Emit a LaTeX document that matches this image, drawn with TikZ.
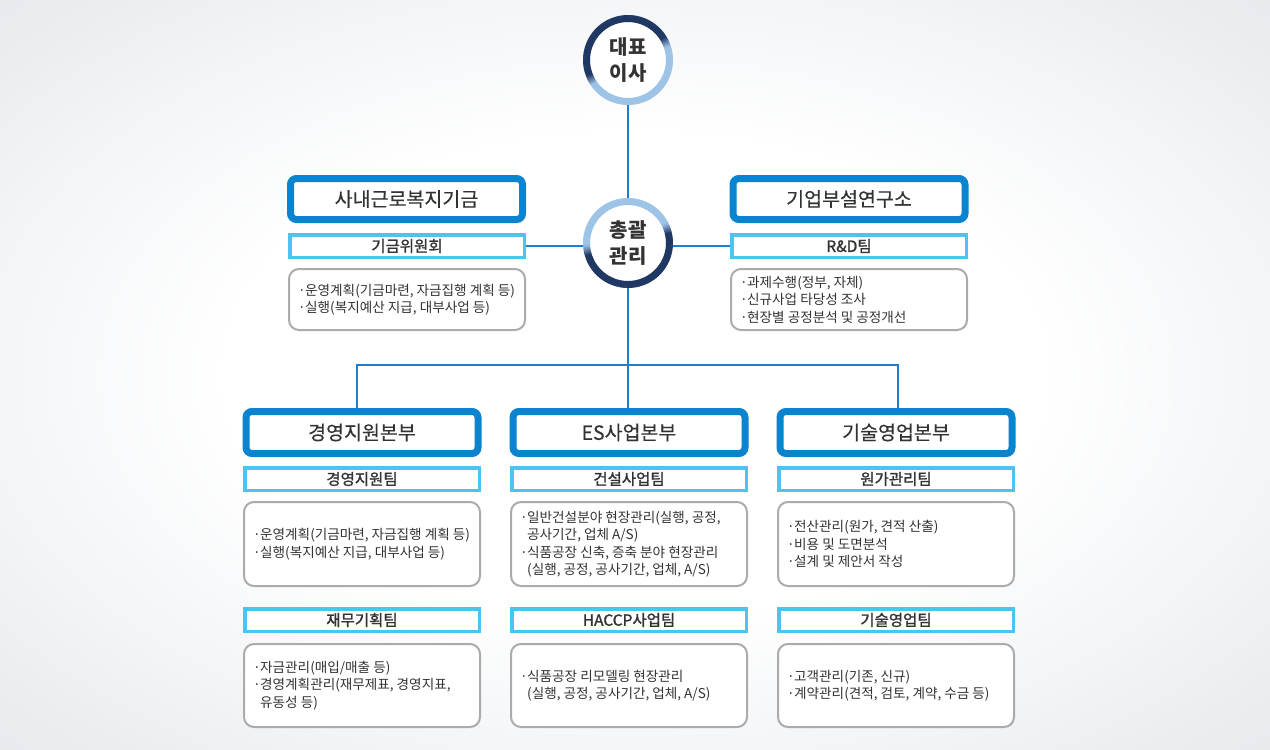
\documentclass[tikz,border=0pt]{standalone}
\usepackage{fontspec}
\setmainfont{Noto Sans CJK KR}
\newfontfamily\titlekr[FakeBold=0.4]{Noto Sans CJK KR}
\newfontfamily\teamkr[FakeBold=1.4]{Noto Sans CJK KR}
\definecolor{bigblue}{HTML}{0A84CF}
\definecolor{teamblue}{HTML}{4CC3F1}
\definecolor{linkblue}{HTML}{1A80CF}
\definecolor{ringdark}{HTML}{1F3763}
\definecolor{ringlight}{HTML}{9DC3E6}
\definecolor{descgray}{HTML}{ABABAB}
\definecolor{txt}{HTML}{333333}
\definecolor{bgedge}{HTML}{D2D9DF}
\pgfdeclareradialshading{bgshade}{\pgfpoint{0bp}{0bp}}{color(0bp)=(white); color(16bp)=(white); color(52bp)=(bgedge); color(100bp)=(bgedge)}
\newcommand\bl{\makebox[7pt][l]{·}}
\newcommand\ind{\hspace*{7pt}}
\newcommand\ringdraw[3]{%
  \foreach \a in {0,3,...,357}{%
    \pgfmathsetmacro\dd{180-abs(mod(\a+1.5-(#2)+720,360)-180)}%
    \pgfmathtruncatemacro\pp{100*max(0,min(1,((#3)+7-\dd)/14))}%
    \draw[line width=7pt, draw=ringdark!\pp!ringlight] (#1) ++(\a:41.5) arc[start angle=\a, end angle=\a+3.6, radius=41.5];
  }}
\begin{document}
\begin{tikzpicture}[x=1pt,y=-1pt,
  bigbox/.style={draw=bigblue, line width=7pt, fill=white, rounded corners=6pt, minimum width=232pt, minimum height=41pt, inner sep=0pt, font=\titlekr\fontsize{19.5}{22}\selectfont, text=txt},
  teambox/.style={draw=teamblue, line width=3.5pt, fill=white, minimum width=234.5pt, minimum height=22.5pt, inner sep=0pt, font=\teamkr\fontsize{15.5}{17}\selectfont, text=txt},
  descbox/.style={draw=descgray, line width=2pt, fill=white, rounded corners=10pt, minimum width=236pt, inner sep=0pt},
  desctext/.style={anchor=west, inner sep=0pt, align=left, font=\fontsize{13.6}{17.5}\selectfont, text=txt},
  ringnode/.style={circle, fill=white, minimum size=90pt, inner sep=0pt, align=center, font=\fontsize{20}{26}\selectfont\bfseries, text=txt},
  link/.style={draw=linkblue, line width=2pt}]
\useasboundingbox (0,0) rectangle (1270,750);
\shade[shading=bgshade] (0,0) rectangle (1270,750);

% circles
\node[ringnode] (c1) at (628,60) {대표\\이사};
\node[ringnode] (c2) at (628,243) {총괄\\관리};
\coordinate (bus) at (628,365);

% top columns
\node[bigbox] (fund) at (406.5,199) {사내근로복지기금};
\node[teambox] (fundteam) at (407,246) {기금위원회};
\node[descbox, minimum height=61pt] (funddesc) at (407,299.5) {};
\node[desctext] at ([xshift=10pt]funddesc.west) {\bl 운영계획(기금마련, 자금집행 계획 등)\\\bl 실행(복지예산 지급, 대부사업 등)};

\node[bigbox] (lab) at (849,199) {기업부설연구소};
\node[teambox] (labteam) at (849,246) {R\&D팀};
\node[descbox, minimum height=61pt] (labdesc) at (849,299.5) {};
\node[desctext] at ([xshift=10pt]labdesc.west) {\bl 과제수행(정부, 자체)\\\bl 신규사업 타당성 조사\\\bl 현장별 공정분석 및 공정개선};

% bottom columns
\node[bigbox, minimum height=42pt] (mgmt) at (362,432.5) {경영지원본부};
\node[teambox] (mgmtA) at (362,479) {경영지원팀};
\node[descbox, minimum height=84pt] (mgmtAd) at (362,544) {};
\node[desctext] at ([xshift=10pt]mgmtAd.west) {\bl 운영계획(기금마련, 자금집행 계획 등)\\\bl 실행(복지예산 지급, 대부사업 등)};
\node[teambox] (mgmtB) at (362,620) {재무기획팀};
\node[descbox, minimum height=83pt] (mgmtBd) at (362,685.5) {};
\node[desctext] at ([xshift=10pt]mgmtBd.west) {\bl 자금관리(매입/매출 등)\\\bl 경영계획관리(재무제표, 경영지표,\\\ind 유동성 등)};

\node[bigbox, minimum height=42pt] (es) at (629,432.5) {ES사업본부};
\node[teambox] (esA) at (629,479) {건설사업팀};
\node[descbox, minimum height=84pt] (esAd) at (629,544) {};
\node[desctext] at ([xshift=10pt]esAd.west) {\bl 일반건설분야 현장관리(실행, 공정,\\\ind 공사기간, 업체 A/S)\\\bl 식품공장 신축, 증축 분야 현장관리\\\ind (실행, 공정, 공사기간, 업체, A/S)};
\node[teambox] (esB) at (629,620) {HACCP사업팀};
\node[descbox, minimum height=83pt] (esBd) at (629,685.5) {};
\node[desctext] at ([xshift=10pt]esBd.west) {\bl 식품공장 리모델링 현장관리\\\ind (실행, 공정, 공사기간, 업체, A/S)};

\node[bigbox, minimum height=42pt] (tech) at (896,432.5) {기술영업본부};
\node[teambox] (techA) at (896,479) {원가관리팀};
\node[descbox, minimum height=84pt] (techAd) at (896,544) {};
\node[desctext] at ([xshift=10pt]techAd.west) {\bl 전산관리(원가, 견적 산출)\\\bl 비용 및 도면분석\\\bl 설계 및 제안서 작성};
\node[teambox] (techB) at (896,620) {기술영업팀};
\node[descbox, minimum height=83pt] (techBd) at (896,685.5) {};
\node[desctext] at ([xshift=10pt]techBd.west) {\bl 고객관리(기존, 신규)\\\bl 계약관리(견적, 검토, 계약, 수금 등)};

% connectors
\draw[link] (c1.south) -- (c2.north);
\draw[link] (fundteam.east) -- (fundteam.east -| c2.west);
\draw[link] (labteam.west) -- (labteam.west -| c2.east);
\draw[link] (c2.south) -- (bus);
\draw[link] ([xshift=-5pt]mgmt.north) |- (bus);
\draw[link] ([xshift=2pt]tech.north) |- (bus);
\draw[link] (bus) -- (es.north -| bus);

% rings
\ringdraw{c1}{-116.5}{91.5}
\ringdraw{c2}{75}{95}
\end{tikzpicture}
\end{document}
